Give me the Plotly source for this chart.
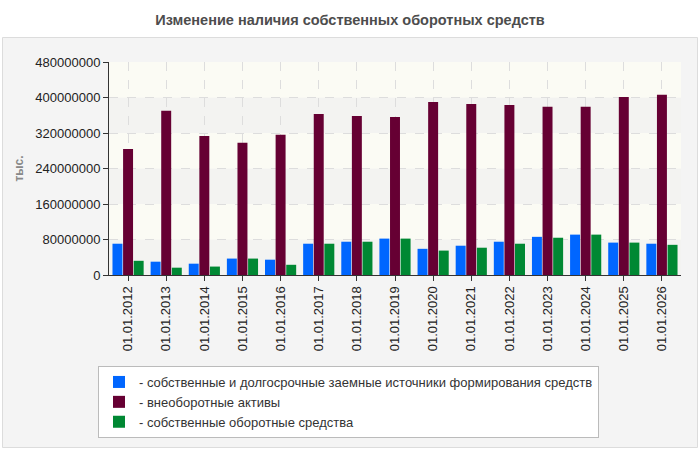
import plotly.graph_objects as go

categories = ["01.01.2012", "01.01.2013", "01.01.2014", "01.01.2015", "01.01.2016",
              "01.01.2017", "01.01.2018", "01.01.2019", "01.01.2020", "01.01.2021",
              "01.01.2022", "01.01.2023", "01.01.2024", "01.01.2025", "01.01.2026"]

own_longterm = [70.5e6, 30e6, 25.5e6, 37e6, 34.5e6, 70.5e6, 75e6, 82e6, 59e6, 66e6,
                75e6, 86e6, 91e6, 73e6, 70.5e6]
noncurrent = [284e6, 370e6, 313.5e6, 298e6, 316e6, 363e6, 358.5e6, 356e6, 390e6, 385.5e6,
              383e6, 379e6, 379e6, 401e6, 406e6]
own_working = [32e6, 16.5e6, 19e6, 37e6, 23e6, 70.5e6, 75e6, 82e6, 55e6, 61.5e6,
               70.5e6, 84e6, 91e6, 73e6, 68e6]

series_names = ["- собственные и долгосрочные заемные источники формирования средств",
                "- внеоборотные активы",
                "- собственные оборотные средства"]
series_colors = ["#0066ff", "#660033", "#008833"]

y_ticks = [0, 80000000, 160000000, 240000000, 320000000, 400000000, 480000000]

title_text = "Изменение наличия собственных оборотных средств"
y_title = "тыс."

W, H = 700, 450
L, R, T, B = 109, 19, 62, 175
PW, PH = W - L - R, H - T - B

def px_x(p):
    return (p - L) / PW

def px_y(p):
    return (H - B - p) / PH

font_family = "Liberation Sans, Arial, sans-serif"

fig = go.Figure()
for name, vals, col in zip(series_names, [own_longterm, noncurrent, own_working], series_colors):
    fig.add_trace(go.Bar(x=categories, y=vals, name=name, marker=dict(color=col, line=dict(width=0))))

shapes = []
# panel background
x0, x1, y0, y1 = px_x(2.5), px_x(697.5), px_y(37.5), px_y(447.5)
shapes.append(dict(type="rect", xref="paper", yref="paper", x0=x0, x1=x1, y0=y1, y1=y0,
                   fillcolor="#f4f4f4", line=dict(color="#dcdcdc", width=1), layer="below"))
# alternating bands
for i in range(len(y_ticks) - 1):
    col = "#f3f3f1" if i % 2 == 0 else "#fbfbf4"
    shapes.append(dict(type="rect", xref="paper", yref="y", x0=0, x1=1,
                       y0=y_ticks[i], y1=y_ticks[i + 1], fillcolor=col,
                       line=dict(width=0), layer="below"))

fig.update_layout(
    width=W, height=H,
    margin=dict(l=L, r=R, t=T, b=B, pad=0),
    paper_bgcolor="white",
    plot_bgcolor="rgba(0,0,0,0)",
    barmode="group",
    bargap=0.166,
    bargroupgap=0.06,
    font=dict(family=font_family, size=13, color="#222"),
    title=dict(text="<b>" + title_text + "</b>", x=0.5, xref="container", xanchor="center",
               y=1 - 20 / H, yref="container", yanchor="middle",
               font=dict(size=14.5, color="#4d4d4d", family=font_family)),
    shapes=shapes,
    showlegend=True,
    legend=dict(x=px_x(98), y=px_y(366), xanchor="left", yanchor="top",
                bgcolor="white", bordercolor="#bbbbbb", borderwidth=1,
                font=dict(size=13, color="#333", family=font_family),
                traceorder="normal", orientation="v"),
    xaxis=dict(type="category", tickangle=-90, showline=True, linecolor="#333",
               linewidth=1, ticks="outside", ticklen=5, tickcolor="#333",
               showgrid=True, gridcolor="#dddddd", griddash="dash", gridwidth=1,
               tickfont=dict(size=13, color="#222"), mirror=False, zeroline=False),
    yaxis=dict(range=[0, 480000000], tickvals=y_ticks,
               ticktext=[str(v) for v in y_ticks], showline=True, linecolor="#333",
               linewidth=1, ticks="outside", ticklen=5, tickcolor="#333",
               showgrid=True, gridcolor="#dddddd", griddash="dash", gridwidth=1,
               tickfont=dict(size=13, color="#222"), zeroline=False,
               title=dict(text="<b>" + y_title + "</b>", standoff=9,
                          font=dict(size=12, color="#888"))),
)

fig.write_html("out.html")
